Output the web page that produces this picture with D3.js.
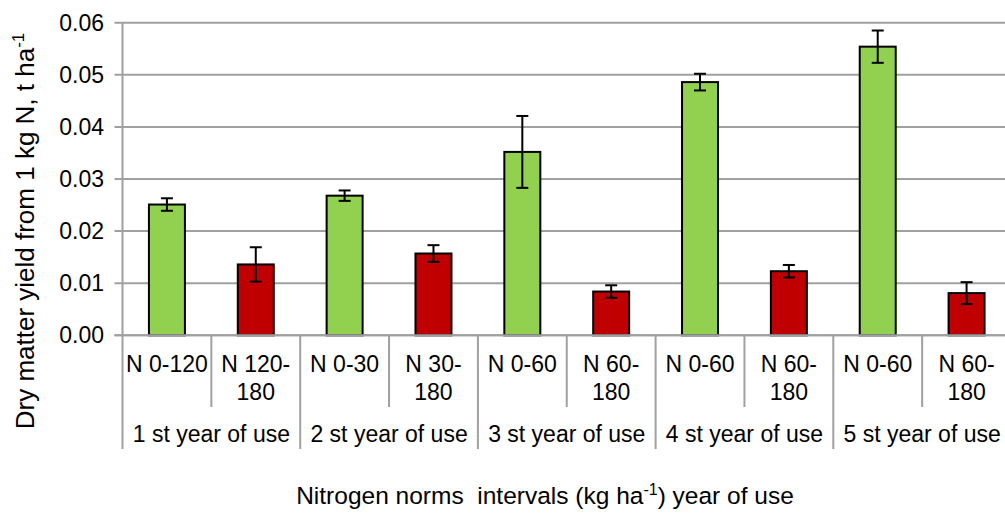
<!DOCTYPE html>
<html>
<head>
<meta charset="utf-8">
<script src="https://cdn.jsdelivr.net/npm/d3@7"></script>
<style>
  html, body { margin: 0; padding: 0; background: #fff; }
  svg { display: block; font-family: "Liberation Sans", Arial, sans-serif; }
</style>
</head>
<body>
<svg id="chart" width="1005" height="514"></svg>
<script>
// Years of use (outer category level)
const years = ["1 st year of use", "2 st year of use", "3 st year of use", "4 st year of use", "5 st year of use"];
// Nitrogen norm intervals (inner category level), wrapped lines per label
const intervals = [
  ["N 0-120"], ["N 120-", "180"],
  ["N 0-30"],  ["N 30-", "180"],
  ["N 0-60"],  ["N 60-", "180"],
  ["N 0-60"],  ["N 60-", "180"],
  ["N 0-60"],  ["N 60-", "180"]
];
// Dry matter yield per 1 kg N (t/ha): lower interval and upper interval per year
const lowerValues = [0.0251, 0.0268, 0.0352, 0.0486, 0.0554];
const lowerErrors = [0.0012, 0.0010, 0.0069, 0.0016, 0.0031];
const upperValues = [0.0136, 0.0157, 0.0084, 0.0123, 0.0081];
const upperErrors = [0.0033, 0.0016, 0.0012, 0.0012, 0.0021];
const yTicks = [0, 0.01, 0.02, 0.03, 0.04, 0.05, 0.06];

const bars = [];
years.forEach((yr, i) => {
  bars.push({ idx: 2 * i, value: lowerValues[i], err: lowerErrors[i], kind: "lower" });
  bars.push({ idx: 2 * i + 1, value: upperValues[i], err: upperErrors[i], kind: "upper" });
});

const svg = d3.select("#chart");
const plotLeft = 122.5, plotRight = 1011, plotTop = 22.7, plotBase = 335.3;
const gridColor = "#a0a0a0";
const fontSize = 23;

const x = d3.scaleBand().domain(d3.range(intervals.length)).range([plotLeft, plotRight]).padding(0);
const xYear = d3.scaleBand().domain(d3.range(years.length)).range([plotLeft, plotRight]).padding(0);
const y = d3.scaleLinear().domain([0, 0.06]).range([plotBase, plotTop]);

// Horizontal gridlines with tick stubs
svg.append("g").selectAll("line").data(yTicks).join("line")
  .attr("x1", plotLeft - 8).attr("x2", plotRight)
  .attr("y1", d => y(d)).attr("y2", d => y(d))
  .attr("stroke", gridColor).attr("stroke-width", 2);

// Value axis line
svg.append("line").attr("x1", plotLeft).attr("x2", plotLeft).attr("y1", plotTop).attr("y2", plotBase)
  .attr("stroke", gridColor).attr("stroke-width", 2);

// Value axis labels
svg.append("g").selectAll("text").data(yTicks).join("text")
  .attr("x", 104).attr("y", d => y(d))
  .attr("text-anchor", "end").attr("dominant-baseline", "central")
  .attr("font-size", fontSize).attr("fill", "#000")
  .text(d3.format(".2f"));

// Bars
const bw = x.bandwidth() * 0.405;
const colors = { lower: "#92d050", upper: "#c00000" };
svg.append("g").selectAll("rect").data(bars).join("rect")
  .attr("x", d => x(d.idx) + (x.bandwidth() - bw) / 2)
  .attr("width", bw)
  .attr("y", d => y(d.value))
  .attr("height", d => y(0) - y(d.value))
  .attr("fill", d => colors[d.kind])
  .attr("stroke", "#000").attr("stroke-width", 2);

// Error bars
const eb = svg.append("g").attr("stroke", "#000").attr("stroke-width", 2);
bars.forEach(d => {
  const cx = x(d.idx) + x.bandwidth() / 2;
  const hi = y(d.value + d.err), lo = y(d.value - d.err);
  eb.append("line").attr("x1", cx).attr("x2", cx).attr("y1", hi).attr("y2", lo);
  eb.append("line").attr("x1", cx - 6).attr("x2", cx + 6).attr("y1", hi).attr("y2", hi);
  eb.append("line").attr("x1", cx - 6).attr("x2", cx + 6).attr("y1", lo).attr("y2", lo);
});

// Category axis baseline
svg.append("line").attr("x1", plotLeft - 8).attr("x2", plotRight).attr("y1", plotBase).attr("y2", plotBase)
  .attr("stroke", gridColor).attr("stroke-width", 2);

// Dividers: short between intervals, long between years
svg.append("g").selectAll("line").data(d3.range(intervals.length + 1)).join("line")
  .attr("x1", i => plotLeft + i * x.step()).attr("x2", i => plotLeft + i * x.step())
  .attr("y1", plotBase).attr("y2", i => i % 2 === 0 ? 449 : 407)
  .attr("stroke", gridColor).attr("stroke-width", 2);

// Interval labels
svg.append("g").selectAll("text").data(intervals).join("text")
  .attr("text-anchor", "middle").attr("font-size", fontSize).attr("fill", "#000")
  .each(function(lines, i) {
    const t = d3.select(this);
    lines.forEach((ln, k) => {
      t.append("tspan").attr("x", x(i) + x.bandwidth() / 2).attr("y", 372 + k * 28).text(ln);
    });
  });

// Year labels
svg.append("g").selectAll("text").data(years).join("text")
  .attr("x", (d, i) => xYear(i) + xYear.bandwidth() / 2).attr("y", 442)
  .attr("text-anchor", "middle").attr("font-size", fontSize).attr("fill", "#000")
  .text(d => d);

// Axis titles
const xt = svg.append("text").attr("x", 545).attr("y", 504)
  .attr("text-anchor", "middle").attr("font-size", 24.5).attr("fill", "#000")
  .attr("xml:space", "preserve");
xt.append("tspan").text("Nitrogen norms  intervals (kg ha");
xt.append("tspan").attr("font-size", 16).attr("dy", -9).text("-1");
xt.append("tspan").attr("dy", 9).text(") year of use");

const yt = svg.append("text").attr("transform", "translate(34,231) rotate(-90)")
  .attr("text-anchor", "middle").attr("font-size", 26).attr("fill", "#000");
yt.append("tspan").text("Dry matter yield from 1 kg N, t ha");
yt.append("tspan").attr("font-size", 17).attr("dy", -10).text("-1");
</script>
</body>
</html>
